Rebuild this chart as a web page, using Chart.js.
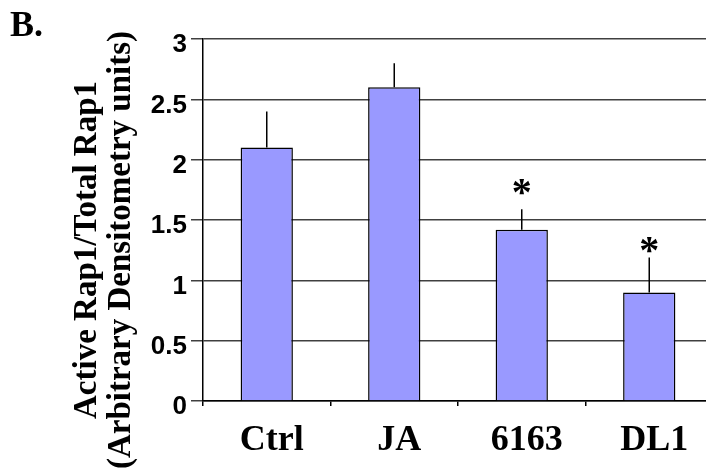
<!DOCTYPE html>
<html>
<head>
<meta charset="utf-8">
<script src="https://cdn.jsdelivr.net/npm/chart.js@4.4.1/dist/chart.umd.min.js"></script>
<style>
  html, body { margin: 0; padding: 0; background: #fff; overflow: hidden; }
  #wrap { width: 720px; height: 472px; }
</style>
</head>
<body>
<div id="wrap"><canvas id="c" width="720" height="472"></canvas></div>
<script>
const categories = ['Ctrl', 'JA', '6163', 'DL1'];
const values = [2.1, 2.6, 1.42, 0.9];
const errors = [0.3, 0.2, 0.17, 0.29];
const starLevels = [null, null, 1.76, 1.28];
const yTicks = [0, 0.5, 1, 1.5, 2, 2.5, 3];
const yTitleLines = ['Active Rap1/Total Rap1', '(Arbitrary Densitometry units)'];
const panelLabel = 'B.';

const extras = {
  id: 'extras',
  afterDatasetsDraw(chart) {
    const ctx = chart.ctx;
    const y = chart.scales.y;
    const meta = chart.getDatasetMeta(0);
    ctx.save();
    ctx.strokeStyle = '#000';
    ctx.lineWidth = 1.5;
    meta.data.forEach((bar, i) => {
      const top = y.getPixelForValue(values[i]);
      const end = y.getPixelForValue(values[i] + errors[i]);
      ctx.beginPath();
      ctx.moveTo(bar.x, top);
      ctx.lineTo(bar.x, end);
      ctx.stroke();
      if (starLevels[i] !== null) {
        ctx.fillStyle = '#000';
        ctx.font = 'bold 40px "Liberation Serif"';
        ctx.textAlign = 'center';
        ctx.textBaseline = 'middle';
        ctx.fillText('*', bar.x, y.getPixelForValue(starLevels[i]) + 6);
      }
    });
    ctx.restore();
  },
  afterDraw(chart) {
    const ctx = chart.ctx;
    ctx.save();
    ctx.fillStyle = '#000';
    ctx.font = 'bold 36px "Liberation Serif"';
    ctx.textAlign = 'left';
    ctx.textBaseline = 'alphabetic';
    ctx.fillText(panelLabel, 10, 36);
    ctx.font = 'bold 33px "Liberation Serif"';
    ctx.textAlign = 'center';
    ctx.textBaseline = 'middle';
    ctx.translate(0, 250);
    ctx.rotate(-Math.PI / 2);
    ctx.fillText(yTitleLines[0], 0, 87);
    ctx.fillText(yTitleLines[1], 0, 121);
    ctx.restore();
  }
};

new Chart(document.getElementById('c'), {
  type: 'bar',
  data: {
    labels: categories,
    datasets: [{
      data: values,
      backgroundColor: '#9999FF',
      borderColor: '#000',
      borderWidth: 1.5,
      borderSkipped: 'bottom',
      categoryPercentage: 1,
      barPercentage: 0.41
    }]
  },
  options: {
    responsive: false,
    animation: false,
    layout: { padding: { top: 39, right: 7, bottom: 0, left: 0 } },
    plugins: { legend: { display: false }, tooltip: { enabled: false } },
    scales: {
      x: {
        afterFit(s) { s.height = 71; },
        grid: { offset: true, drawOnChartArea: false, drawTicks: true, tickLength: 5, color: '#000', lineWidth: 1.5 },
        border: { display: true, color: '#000', width: 1.5 },
        ticks: {
          color: '#000',
          padding: 13,
          labelOffset: 5,
          font: { family: '"Liberation Serif"', size: 36, weight: 'bold' }
        }
      },
      y: {
        min: 0, max: 3,
        afterFit(s) { s.width = 203; },
        afterBuildTicks(s) { s.ticks = yTicks.map(v => ({ value: v })); },
        grid: { color: '#404040', lineWidth: 1.5, drawTicks: true, tickLength: 12 },
        border: { display: true, color: '#000', width: 1.5 },
        ticks: {
          color: '#000',
          padding: 4,
          labelOffset: 6,
          callback: (v) => String(v),
          font: { family: '"Liberation Sans"', size: 26, weight: 'bold' }
        }
      }
    }
  },
  plugins: [extras]
});
</script>
</body>
</html>
